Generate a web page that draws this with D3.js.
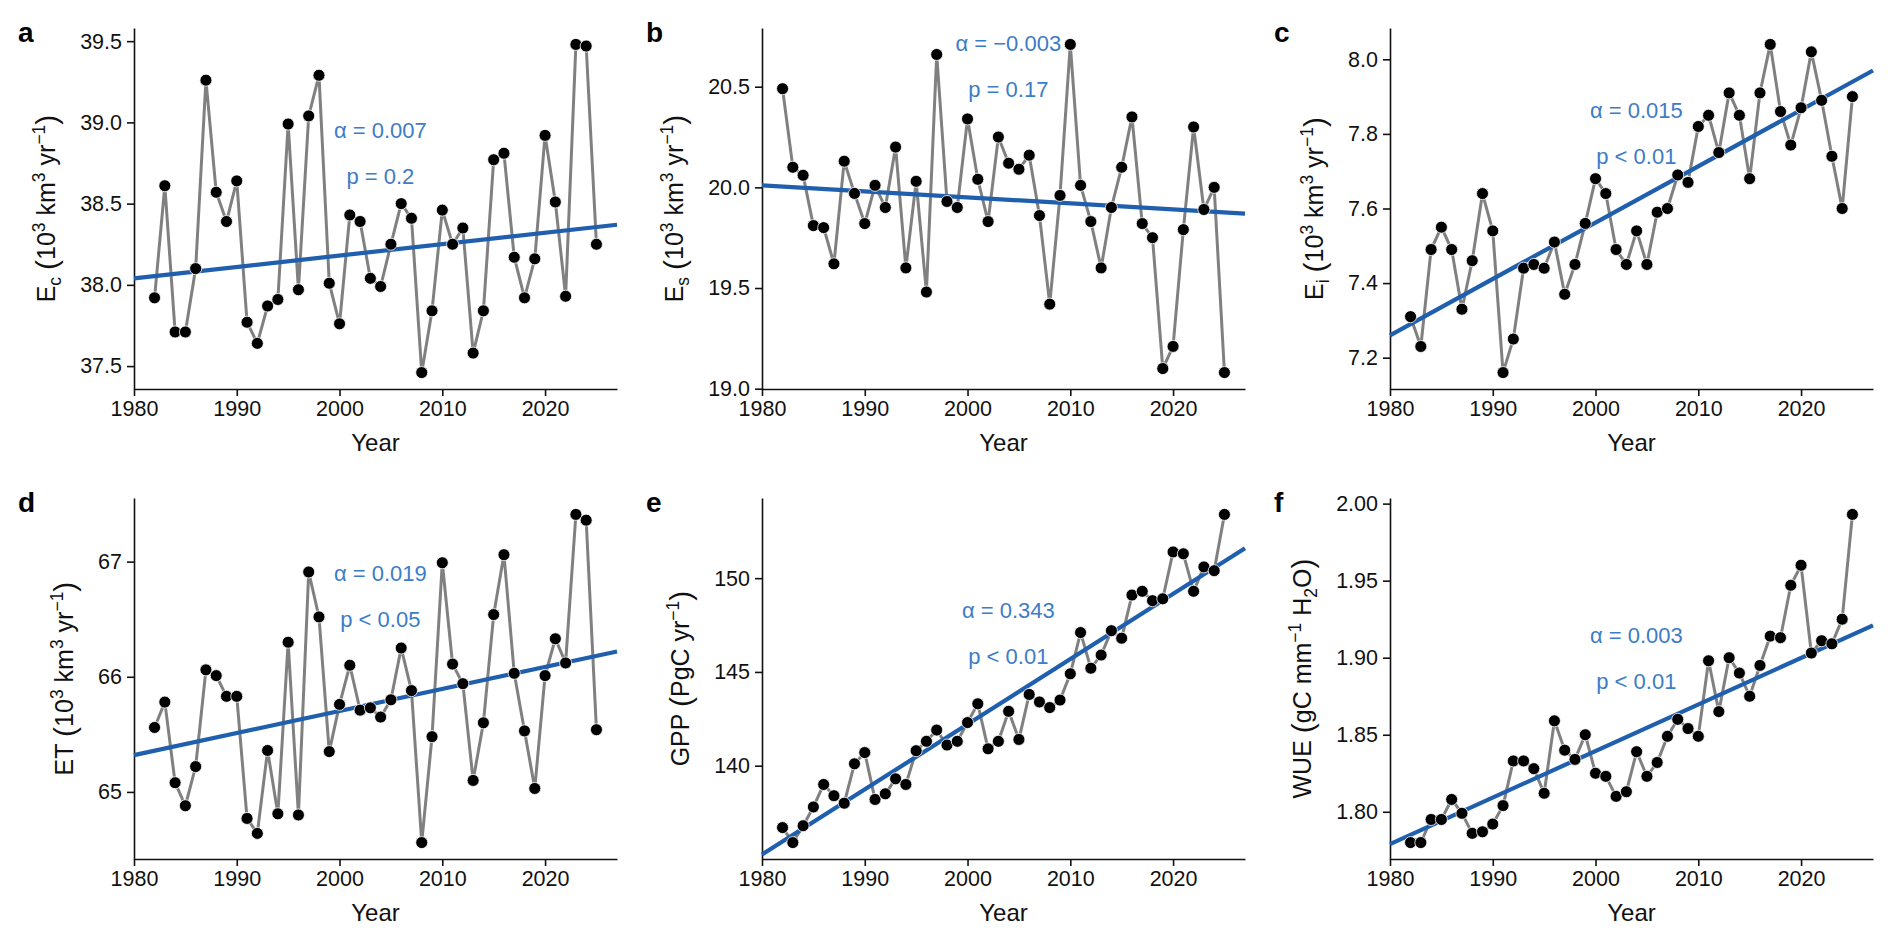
<!DOCTYPE html>
<html>
<head>
<meta charset="utf-8">
<script src="https://cdn.jsdelivr.net/npm/d3@7.9.0/dist/d3.min.js"></script>
<style>
  body { margin: 0; background: #fff; }
  svg { display: block; }
  text { font-family: "Liberation Sans", Arial, Helvetica, sans-serif; fill: #111; }
</style>
</head>
<body>
<svg id="fig" width="1892" height="942"></svg>
<script>
// --- data ---
const years = [1982, 1983, 1984, 1985, 1986, 1987, 1988, 1989, 1990, 1991, 1992,
  1993, 1994, 1995, 1996, 1997, 1998, 1999, 2000, 2001, 2002, 2003, 2004, 2005,
  2006, 2007, 2008, 2009, 2010, 2011, 2012, 2013, 2014, 2015, 2016, 2017, 2018,
  2019, 2020, 2021, 2022, 2023, 2024, 2025];

const ecValues = [37.92, 38.61, 37.71, 37.71, 38.10, 39.26, 38.57, 38.39, 38.64, 37.77, 37.64,
  37.87, 37.91, 38.99, 37.97, 39.04, 39.29, 38.01, 37.76, 38.43, 38.39, 38.04, 37.99, 38.25,
  38.50, 38.41, 37.46, 37.84, 38.46, 38.25, 38.35, 37.58, 37.84, 38.77, 38.81, 38.17, 37.92,
  38.16, 38.92, 38.51, 37.93, 39.48, 39.47, 38.25];

const esValues = [20.49, 20.10, 20.06, 19.81, 19.80, 19.62, 20.13, 19.97, 19.82, 20.01, 19.90,
  20.20, 19.60, 20.03, 19.48, 20.66, 19.93, 19.90, 20.34, 20.04, 19.83, 20.25, 20.12, 20.09,
  20.16, 19.86, 19.42, 19.96, 20.71, 20.01, 19.83, 19.60, 19.90, 20.10, 20.35, 19.82, 19.75,
  19.10, 19.21, 19.79, 20.30, 19.89, 20.00, 19.08];

const eiValues = [7.31, 7.23, 7.49, 7.55, 7.49, 7.33, 7.46, 7.64, 7.54, 7.16, 7.25,
  7.44, 7.45, 7.44, 7.51, 7.37, 7.45, 7.56, 7.68, 7.64, 7.49, 7.45, 7.54, 7.45,
  7.59, 7.60, 7.69, 7.67, 7.82, 7.85, 7.75, 7.91, 7.85, 7.68, 7.91, 8.04, 7.86,
  7.77, 7.87, 8.02, 7.89, 7.74, 7.60, 7.90];

const etValues = [65.56, 65.78, 65.08, 64.88, 65.22, 66.06, 66.01, 65.83, 65.83, 64.77, 64.64,
  65.36, 64.81, 66.30, 64.80, 66.91, 66.52, 65.35, 65.76, 66.10, 65.71, 65.73, 65.65, 65.80,
  66.25, 65.88, 64.56, 65.48, 66.99, 66.11, 65.94, 65.10, 65.60, 66.54, 67.06, 66.03, 65.53,
  65.03, 66.01, 66.33, 66.12, 67.41, 67.36, 65.54];

const gppValues = [136.7, 135.9, 136.8, 137.8, 139.0, 138.4, 138.0, 140.1, 140.7, 138.2, 138.5,
  139.3, 139.0, 140.8, 141.3, 141.9, 141.1, 141.3, 142.3, 143.3, 140.9, 141.3, 142.9, 141.4,
  143.8, 143.4, 143.1, 143.5, 144.9, 147.1, 145.2, 145.9, 147.2, 146.8, 149.1, 149.3, 148.8,
  148.9, 151.4, 151.3, 149.3, 150.6, 150.4, 153.4];

const wueValues = [1.780, 1.780, 1.795, 1.795, 1.808, 1.799, 1.786, 1.787, 1.792, 1.804, 1.833,
  1.833, 1.828, 1.812, 1.859, 1.840, 1.834, 1.850, 1.825, 1.823, 1.810, 1.813, 1.839, 1.823,
  1.832, 1.849, 1.860, 1.854, 1.849, 1.898, 1.865, 1.900, 1.890, 1.875, 1.895, 1.914, 1.913,
  1.947, 1.960, 1.903, 1.911, 1.909, 1.925, 1.993];

// trend line values at the two ends of the x axis (1980 and 2027)
const trendYears = [1980, 2027];
const trendStart = [38.04, 20.01, 7.26, 65.32, 135.26, 1.779];
const trendEnd = [38.37, 19.87, 7.97, 66.22, 151.6, 1.921];

const alphaLabels = ['α = 0.007', 'α = −0.003', 'α = 0.015', 'α = 0.019', 'α = 0.343', 'α = 0.003'];
const pLabels = ['p = 0.2', 'p = 0.17', 'p < 0.01', 'p < 0.05', 'p < 0.01', 'p < 0.01'];
const panelLetters = ['a', 'b', 'c', 'd', 'e', 'f'];

const xTicks = [1980, 1990, 2000, 2010, 2020];
const yTicksA = [37.5, 38.0, 38.5, 39.0, 39.5];
const yTicksB = [19.0, 19.5, 20.0, 20.5];
const yTicksC = [7.2, 7.4, 7.6, 7.8, 8.0];
const yTicksD = [65, 66, 67];
const yTicksE = [140, 145, 150];
const yTicksF = [1.80, 1.85, 1.90, 1.95, 2.00];

const unitParts = [[' '], ['(', 'paren'], ['10'], ['3', 'sup'], [' km'], ['3', 'sup'], [' yr'], ['−1', 'sup'], [')', 'paren']];
const yLabelA = [['E'], ['c', 'sub'], ...unitParts];
const yLabelB = [['E'], ['s', 'sub'], ...unitParts];
const yLabelC = [['E'], ['i', 'sub'], ...unitParts];
const yLabelD = [['ET'], ...unitParts];
const yLabelE = [['GPP '], ['(', 'paren'], ['PgC yr'], ['−1', 'sup'], [')', 'paren']];
const yLabelF = [['WUE '], ['(', 'paren'], ['gC mm'], ['−1', 'sup'], [' H'], ['2', 'sub'], ['O'], [')', 'paren']];

// --- layout ---
const colLeft = [134, 762, 1390];
const rowTop = [28, 498];
const plotW = 483;
const plotH = 361;
const grey = '#808080';
const trendBlue = '#1f5fad';
const textBlue = '#3d7cc6';

const panels = [
  { values: ecValues, ticks: yTicksA, fmt: d3.format('.1f'), label: yLabelA },
  { values: esValues, ticks: yTicksB, fmt: d3.format('.1f'), label: yLabelB },
  { values: eiValues, ticks: yTicksC, fmt: d3.format('.1f'), label: yLabelC },
  { values: etValues, ticks: yTicksD, fmt: d3.format('d'), label: yLabelD },
  { values: gppValues, ticks: yTicksE, fmt: d3.format('d'), label: yLabelE },
  { values: wueValues, ticks: yTicksF, fmt: d3.format('.2f'), label: yLabelF },
];

const svg = d3.select('#fig');

function richText(sel, parts, fs) {
  let shift = 0;
  parts.forEach(([t, kind]) => {
    let target = kind === 'sup' ? -0.42 * fs : kind === 'sub' ? 0.22 * fs : kind === 'paren' ? 0.06 * fs : 0;
    let size = kind === 'paren' ? fs * 1.2 : kind ? fs * 0.7 : fs;
    sel.append('tspan')
      .attr('dy', target - shift)
      .attr('font-size', size)
      .text(t);
    shift = target;
  });
}

panels.forEach((p, i) => {
  let left = colLeft[i % 3];
  let top = rowTop[Math.floor(i / 3)];

  let g = svg.append('g').attr('transform', `translate(${left},${top})`);

  let x = d3.scaleLinear().domain([1980, 2027]).range([0, plotW]);
  let [lo, hi] = d3.extent(p.values);
  let pad = (hi - lo) * 0.05;
  let y = d3.scaleLinear().domain([lo - pad, hi + pad]).range([plotH, 0]);

  // axes
  let xAxis = g.append('g')
    .attr('transform', `translate(0,${plotH})`)
    .call(d3.axisBottom(x).tickValues(xTicks).tickFormat(d3.format('d')).tickSize(7).tickSizeOuter(0).tickPadding(5));

  let yAxis = g.append('g')
    .call(d3.axisLeft(y).tickValues(p.ticks).tickFormat(p.fmt).tickSize(7).tickSizeOuter(0).tickPadding(5));

  [xAxis, yAxis].forEach((ax) => {
    ax.select('.domain').attr('stroke', '#111').attr('stroke-width', 1.6);
    ax.selectAll('.tick line').attr('stroke', '#111').attr('stroke-width', 1.6);
    ax.selectAll('.tick text').attr('font-size', 21.5).attr('fill', '#111')
      .attr('font-family', '"Liberation Sans", Arial, sans-serif');
  });

  // series line + points
  let pts = years.map((yr, k) => [yr, p.values[k]]);
  g.append('path')
    .attr('d', d3.line().x((d) => x(d[0])).y((d) => y(d[1]))(pts))
    .attr('fill', 'none')
    .attr('stroke', grey)
    .attr('stroke-width', 3);

  // trend line
  g.append('line')
    .attr('x1', x(trendYears[0])).attr('y1', y(trendStart[i]))
    .attr('x2', x(trendYears[1])).attr('y2', y(trendEnd[i]))
    .attr('stroke', trendBlue)
    .attr('stroke-width', 4.2);

  g.selectAll('circle')
    .data(pts)
    .join('circle')
    .attr('cx', (d) => x(d[0]))
    .attr('cy', (d) => y(d[1]))
    .attr('r', 6)
    .attr('fill', '#000')
    .attr('stroke', '#fff')
    .attr('stroke-width', 0.8);

  // annotation
  let annTop = [102, 15, 82, 75, 112, 137][i];
  g.append('text')
    .attr('x', plotW * 0.51).attr('y', annTop + 8)
    .attr('text-anchor', 'middle').attr('font-size', 22)
    .style('fill', textBlue)
    .text(alphaLabels[i]);
  g.append('text')
    .attr('x', plotW * 0.51).attr('y', annTop + 54)
    .attr('text-anchor', 'middle').attr('font-size', 22)
    .style('fill', textBlue)
    .text(pLabels[i]);

  // x label
  g.append('text')
    .attr('x', plotW / 2).attr('y', plotH + 62)
    .attr('text-anchor', 'middle').attr('font-size', 24)
    .text('Year');

  // y label, placed off the widest tick label
  let tickW = d3.max(yAxis.selectAll('.tick text').nodes(), (n) => n.getBBox().width);
  let labelX = -(7 + 5 + tickW + 34);
  let yl = g.append('text')
    .attr('transform', `translate(${labelX + 9},${plotH / 2}) rotate(-90)`)
    .attr('text-anchor', 'middle');
  richText(yl, p.label, 25);

  // panel letter
  svg.append('text')
    .attr('x', left - 116).attr('y', top + 14)
    .attr('font-size', 28).attr('font-weight', 'bold')
    .style('fill', '#000')
    .text(panelLetters[i]);
});
</script>
</body>
</html>
